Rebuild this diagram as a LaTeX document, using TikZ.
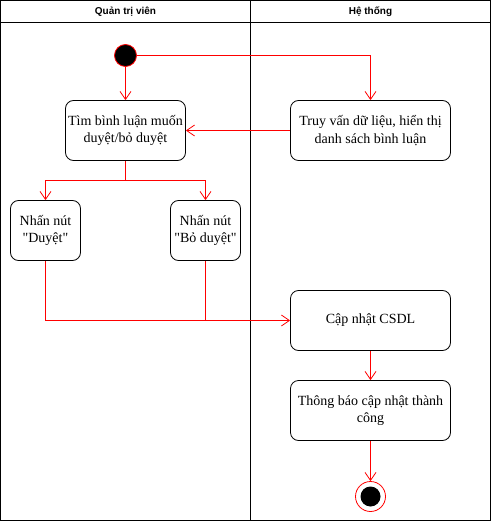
\documentclass[tikz,border=0pt]{standalone}
\usepackage{fontspec}
\setmainfont{Liberation Serif}[Ligatures=TeXOff]
\newfontfamily\lanefont{Liberation Sans}
\usetikzlibrary{arrows.meta}
\begin{document}
\begin{tikzpicture}[
   x=1pt,y=-1pt,
   font=\fontsize{14}{17.5}\selectfont,
   act/.style={draw,line width=0.8pt,rounded corners=8pt,align=center,inner sep=2pt},
   to/.style={-{Straight Barb[length=8pt,width=11pt]},red,line width=0.8pt},
   seg/.style={red,line width=0.8pt},
   lane/.style={font=\lanefont\bfseries\fontsize{10}{12}\selectfont}]
\useasboundingbox (-0.5,-0.5) rectangle (490.5,520.5);
% swimlanes
\draw[line width=0.8pt] (0,0) rectangle (490,520);
\draw[line width=0.8pt] (0,22) -- (490,22);
\draw[line width=0.8pt] (250,0) -- (250,520);
\node[lane] (QTV) at (125,11) {Quản trị viên};
\node[lane] (HT) at (370,11) {Hệ thống};
% nodes
\node[circle,draw=red,fill=black,line width=0.8pt,minimum size=22pt,inner sep=0pt] (S) at (125,55) {};
\node[act,minimum width=120pt,minimum height=60pt] (TK) at (125,130) {Tìm bình luận muốn\\duyệt/bỏ duyệt};
\node[act,minimum width=160pt,minimum height=60pt] (TV) at (370,130) {Truy vấn dữ liệu, hiển thị\\danh sách bình luận};
\node[act,minimum width=70pt,minimum height=60pt] (D) at (45,230) {Nhấn nút\\"Duyệt"};
\node[act,minimum width=70pt,minimum height=60pt] (BD) at (205,230) {Nhấn nút\\"Bỏ duyệt"};
\node[act,minimum width=160pt,minimum height=60pt] (CN) at (370,320) {Cập nhật CSDL};
\node[act,minimum width=160pt,minimum height=60pt] (TB) at (370,410) {Thông báo cập nhật thành\\công};
\node[circle,draw=red,fill=white,line width=0.8pt,minimum size=30pt,inner sep=0pt] (E) at (370,496) {};
\node[circle,fill=black,minimum size=20pt,inner sep=0pt] (E2) at (E) {};
\coordinate (J) at (125,180);
\coordinate (K) at (205,320);
% connectors
\draw[to] (S) -- (TK);
\draw[to] (S) -| (TV);
\draw[to] (TV) -- (TK);
\draw[seg] (TK) -- (J);
\draw[to] (J) -| (D);
\draw[to] (J) -| (BD);
\draw[to] (D) |- (CN);
\draw[seg] (BD) -- (K);
\draw[to] (CN) -- (TB);
\draw[to] (TB) -- (E);
\end{tikzpicture}
\end{document}
